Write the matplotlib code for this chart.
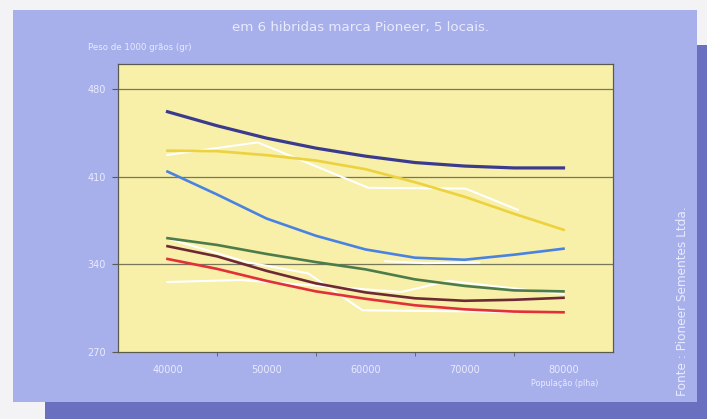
import matplotlib
matplotlib.use("Agg")
import matplotlib.pyplot as plt
from matplotlib.patches import Rectangle

# população (plantas/ha) onde as curvas foram lidas
pop = [40000, 45000, 50000, 55000, 60000, 65000, 70000, 75000, 80000]

# curvas ajustadas, peso de 1000 grãos (gr)
navy = [461.9, 450.7, 440.8, 432.8, 426.4, 421.3, 418.5, 417.0, 417.0]
yellow = [430.8, 430.4, 427.2, 422.9, 416.0, 405.6, 394.0, 380.4, 367.6]
blue = [414.1, 395.8, 376.6, 362.8, 351.9, 345.3, 343.7, 347.7, 352.5]
green = [360.9, 355.5, 348.3, 341.8, 336.0, 328.0, 322.8, 319.2, 318.4]
brown = [354.5, 346.4, 334.8, 324.8, 317.6, 312.9, 310.9, 311.7, 313.3]
red = [344.3, 336.4, 326.8, 318.4, 312.5, 307.3, 304.1, 302.3, 301.7]

# linhas brancas (dados brutos)
w1_x = [40000, 49100, 60300, 70100, 75400]
w1_y = [427.4, 437.4, 401.1, 400.5, 383.5]
w2_x = [40000, 48100, 54200, 59700, 69400, 75400]
w2_y = [360.7, 341.6, 332.8, 303.3, 302.5, 301.7]
w3_x = [40000, 47400, 63600, 68400, 80000]
w3_y = [325.9, 327.5, 317.9, 326.7, 316.3]
w4_x = [62000, 66000, 71500]
w4_y = [342.5, 341.0, 341.5]

yticks = [270, 340, 410, 480]
xlabels = [40000, 50000, 60000, 70000, 80000]
xminor = [45000, 55000, 65000, 75000]

W, H = 707, 419
txt = "#e8ebff"

fig = plt.figure(figsize=(W / 100, H / 100), dpi=100)
fig.patch.set_facecolor("#f3f3f6")


def box(x0, y0, x1, y1, color):
    fig.add_artist(Rectangle((x0 / W, 1 - y1 / H), (x1 - x0) / W, (y1 - y0) / H,
                             transform=fig.transFigure, color=color, zorder=0, lw=0))


box(697, 45, 707, 419, "#6a6fc0")
box(45, 402, 707, 419, "#6a6fc0")
box(13, 10, 697, 402, "#a8b0ec")

ax = fig.add_axes([118 / W, (H - 352) / H, (613 - 118) / W, (352 - 64) / H])
ax.set_facecolor("#f8efa8")
ax.set_xlim(35000, 85000)
ax.set_ylim(270, 500)

for v in yticks[1:]:
    ax.axhline(v, color="#77775e", lw=0.9, zorder=1)

for xs, ys in [(w1_x, w1_y), (w2_x, w2_y), (w3_x, w3_y), (w4_x, w4_y)]:
    ax.plot(xs, ys, color="white", lw=1.5, zorder=2, solid_joinstyle="round")

curves = [(navy, "#3b3b8e", 2.3), (yellow, "#ecd23e", 1.9), (blue, "#4a82e2", 1.9),
          (green, "#4c7c4a", 1.9), (brown, "#6e2a34", 1.9), (red, "#e2303a", 1.9)]
for ys, c, lw in curves:
    ax.plot(pop, ys, color=c, lw=lw, zorder=3, solid_joinstyle="round")

for s in ax.spines.values():
    s.set_color("#5a5a4e")
    s.set_linewidth(0.9)

ax.set_yticks(yticks)
ax.set_yticklabels([str(v) for v in yticks], color=txt, fontsize=7)
ax.tick_params(axis="y", length=4, color="#5a5a4e", pad=5)
ax.set_xticks(xlabels)
ax.set_xticklabels([str(v) for v in xlabels], color=txt, fontsize=7)
ax.tick_params(axis="x", which="major", length=0, pad=9)
ax.set_xticks(xminor, minor=True)
ax.tick_params(axis="x", which="minor", length=3, color="#5a5a4e")

fig.text(361 / W, 1 - 28 / H, "em 6 hibridas marca Pioneer, 5 locais.",
         color=txt, fontsize=9.6, ha="center", va="center")
fig.text(88 / W, 1 - 47 / H, "Peso de 1000 grãos (gr)",
         color=txt, fontsize=6.2, ha="left", va="center")
fig.text(565 / W, 1 - 383 / H, "População (plha)",
         color=txt, fontsize=5.8, ha="center", va="center")
fig.text(683 / W, 1 - 301 / H, "Fonte : Pioneer Sementes Ltda.",
         color=txt, fontsize=8.7, rotation=90, ha="center", va="center")

fig.savefig("out.png", dpi=100)
